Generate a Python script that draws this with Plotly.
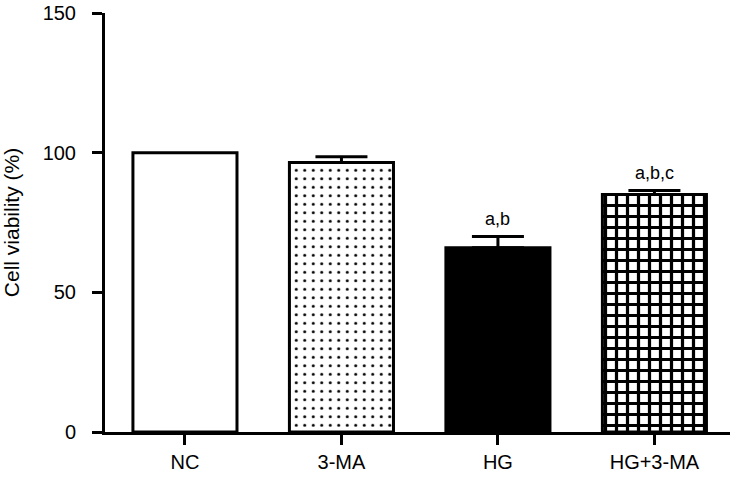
import plotly.graph_objects as go

categories = ["NC", "3-MA", "HG", "HG+3-MA"]
values = [100, 96.5, 66, 85]
errors = [0, 2, 4, 1.5]
labels = ["", "", "a,b", "a,b,c"]

fills = ["white", "white", "black", "white"]
shapes = ["", ".", "", "+"]

fig = go.Figure()
for i, c in enumerate(categories):
    pat = dict(shape=shapes[i])
    if shapes[i] == ".":
        pat.update(fgcolor="black", bgcolor="white", size=8.5, solidity=0.1, fillmode="replace")
    elif shapes[i] == "+":
        pat.update(fgcolor="black", bgcolor="white", size=11, solidity=0.5, fillmode="replace")
    fig.add_trace(go.Bar(
        x=[c], y=[values[i]],
        marker=dict(color=fills[i], line=dict(color="black", width=3), pattern=pat),
        width=0.665,
        error_y=dict(type="data", symmetric=False, array=[errors[i]], arrayminus=[0],
                     color="black", thickness=3, width=26, visible=errors[i] > 0),
        showlegend=False,
    ))

for c, v, e, t in zip(categories, values, errors, labels):
    if t:
        fig.add_annotation(x=c, y=v + e, text=t, showarrow=False, yanchor="bottom", yshift=5,
                           font=dict(family="Liberation Sans, Arial", size=18, color="black"))

fig.update_layout(
    width=741, height=478,
    margin=dict(l=105, r=11, t=13, b=46),
    plot_bgcolor="white", paper_bgcolor="white",
    font=dict(family="Liberation Sans, Arial", color="black", size=20),
)
fig.update_xaxes(
    range=[-0.511, 3.483], showline=True, linecolor="black", linewidth=3,
    ticks="outside", ticklen=10, tickwidth=3, tickcolor="black",
    tickfont=dict(size=20), showgrid=False, zeroline=False, automargin=False,
    ticklabeloverflow="allow",
)
fig.update_yaxes(
    range=[0, 150], tickvals=[0, 50, 100, 150], showline=True, linecolor="black", linewidth=3,
    ticks="outside", ticklen=10, tickwidth=3, tickcolor="black",
    tickfont=dict(size=20), showgrid=False, zeroline=False, automargin=False,
    ticklabeloverflow="allow", ticklabelstandoff=12,
    title=dict(text="Cell viability (%)", font=dict(size=21), standoff=22),
)
fig.write_html("out.html", config={"displayModeBar": False},
               post_script="document.body.style.margin='0';document.body.style.overflow='hidden';")
